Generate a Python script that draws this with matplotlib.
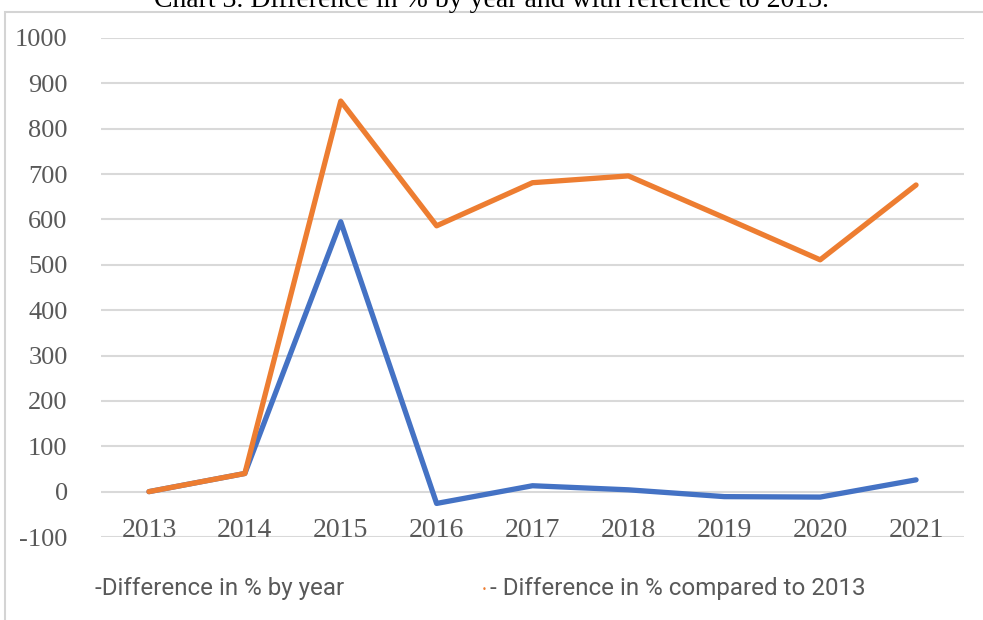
import matplotlib
matplotlib.use("Agg")
import matplotlib.pyplot as plt
from matplotlib.patches import Rectangle

years = ["2013", "2014", "2015", "2016", "2017", "2018", "2019", "2020", "2021"]
by_year = [0, 40, 595, -26, 13, 4, -11, -12, 26]
vs_2013 = [0, 40, 861, 586, 681, 696, 604, 511, 676]
yticks = [-100, 0, 100, 200, 300, 400, 500, 600, 700, 800, 900, 1000]
title = "Chart 3. Difference in % by year and with reference to 2013."
legend_labels = ["-Difference in % by year", "- Difference in % compared to 2013"]

W, H = 983, 620
fig = plt.figure(figsize=(W / 100, H / 100), dpi=100)
fig.patch.set_facecolor("white")

# outer light border
fig.patches.append(Rectangle((5 / W, -0.1), 1.2, 1.1 - 12 / H,
                             transform=fig.transFigure, fill=False,
                             edgecolor="#d4d4d4", linewidth=1.5))

# title (cut off at top, as in the reference)
fig.text(0.5, 1 - 7 / H, title, ha="center", va="baseline",
         fontsize=20, family="Liberation Serif", color="black")

ax = fig.add_axes([101 / W, 1 - 537 / H, (964 - 101) / W, (537 - 38) / H])
ax.set_facecolor("white")
x = list(range(len(years)))
ax.plot(x, by_year, color="#4472C4", linewidth=3.8, solid_capstyle="round", zorder=3)
ax.plot(x, vs_2013, color="#ED7D31", linewidth=3.8, solid_capstyle="round", zorder=4)

ax.set_xlim(-0.5, len(years) - 0.5)
ax.set_ylim(-100, 1000)
ax.set_yticks(yticks)
ax.set_yticklabels([str(v) for v in yticks], family="Liberation Serif",
                   fontsize=19, color="#595959")
ax.tick_params(axis="y", length=0, pad=24)
ax.set_xticks([])
for xi, lab in zip(x, years):
    ax.text(xi, -99, lab, ha="center", va="baseline", family="Liberation Serif",
            fontsize=20, color="#595959")
ax.grid(axis="y", color="#d9d9d9", linewidth=1.5)
ax.set_axisbelow(True)
for s in ax.spines.values():
    s.set_visible(False)

# legend as text
fig.text(95 / W, 1 - 589 / H, legend_labels[0], ha="left", va="center",
         family="Roboto", fontsize=17.4, color="#595959")
fig.text(484 / W, 1 - 589 / H, "\u2022", ha="center", va="center",
         fontsize=6, color="#ED7D31")
fig.text(490 / W, 1 - 589 / H, legend_labels[1], ha="left", va="center",
         family="Roboto", fontsize=17.4, color="#595959")

fig.savefig("out.png", dpi=100, facecolor="white")
